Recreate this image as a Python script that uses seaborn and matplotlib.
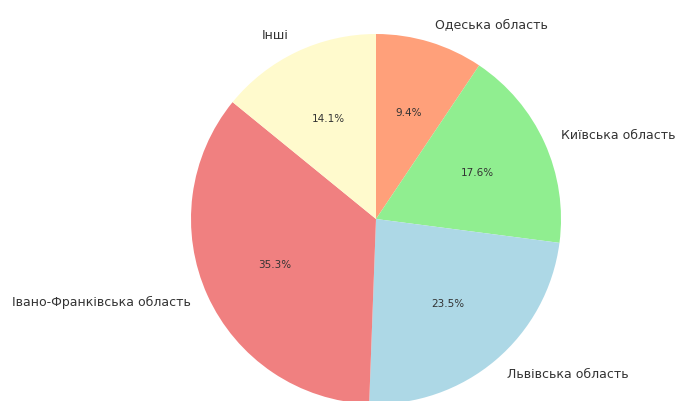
import matplotlib
matplotlib.use("Agg")
import matplotlib.pyplot as plt
import seaborn as sns

# дані по областях
regions = ["Одеська область", "Київська область", "Львівська область",
           "Івано-Франківська область", "Інші"]
counts = [8, 15, 20, 30, 12]
colors = ["lightsalmon", "lightgreen", "lightblue", "lightcoral", "lemonchiffon"]

sns.set_theme(style="white")
plt.rcParams["font.family"] = ["DejaVu Sans"]

fig = plt.figure(figsize=(6.78, 4.01), dpi=100)
ax = fig.add_axes([191 / 678, -3 / 401, 370 / 678, 370 / 401])

ax.pie(counts, labels=regions, colors=colors, autopct="%1.1f%%",
       startangle=90, counterclock=False,
       wedgeprops={"edgecolor": "none", "linewidth": 0},
       textprops={"fontsize": 9, "color": "#333333"})
for t in ax.texts:
    if t.get_text().endswith("%"):
        t.set_fontsize(7.5)
ax.set_xlim(-1, 1)
ax.set_ylim(-1, 1)
ax.set_aspect("equal")

fig.savefig("out.png", dpi=100)
